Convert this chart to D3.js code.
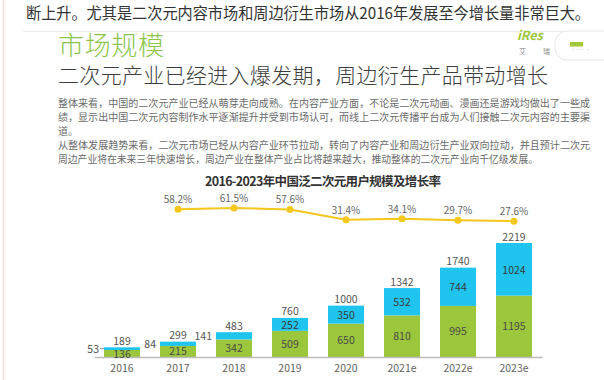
<!DOCTYPE html>
<html>
<head>
<meta charset="utf-8">
<script src="https://cdn.jsdelivr.net/npm/d3@7"></script>
<style>
  html, body { margin: 0; padding: 0; background: #fff; }
  svg { display: block; }
  text { font-family: "Noto Sans CJK SC", "Noto Sans", sans-serif; }
</style>
</head>
<body>
<svg id="chart" width="604" height="380"></svg>
<script>
// ---- data ----
const years = ["2016", "2017", "2018", "2019", "2020", "2021e", "2022e", "2023e"];
const coreValues = [136, 215, 342, 509, 650, 810, 995, 1195];      // green segment
const derivValues = [53, 84, 141, 252, 350, 532, 744, 1024];       // blue segment
const totalValues = [189, 299, 483, 760, 1000, 1342, 1740, 2219];
const growthRates = [null, 58.2, 61.5, 57.6, 31.4, 34.1, 29.7, 27.6];
const growthLabels = ["", "58.2%", "61.5%", "57.6%", "31.4%", "34.1%", "29.7%", "27.6%"];

const topLine = "断上升。尤其是二次元内容市场和周边衍生市场从2016年发展至今增长量非常巨大。";
const sectionTitle = "市场规模";
const headline = "二次元产业已经进入爆发期，周边衍生产品带动增长";
const paragraphLines = [
  "整体来看，中国的二次元产业已经从萌芽走向成熟。在内容产业方面，不论是二次元动画、漫画还是游戏均做出了一些成",
  "绩，显示出中国二次元内容制作水平逐渐提升并受到市场认可，而线上二次元传播平台成为人们接触二次元内容的主要渠",
  "道。",
  "从整体发展趋势来看，二次元市场已经从内容产业环节拉动，转向了内容产业和周边衍生产业双向拉动，并且预计二次元",
  "周边产业将在未来三年快速增长，周边产业在整体产业占比将越来越大，推动整体的二次元产业向千亿级发展。"
];
const chartTitle = "2016-2023年中国泛二次元用户规模及增长率";

// ---- drawing ----
const svg = d3.select("#chart");
const GREEN = "#9cc63b", BLUE = "#1fc5ef", YELLOW = "#f3c71c";

// page decorations
svg.append("line").attr("x1", 3.5).attr("x2", 3.5).attr("y1", 0).attr("y2", 380)
  .attr("stroke", "#f3ddd2").attr("stroke-width", 1.5);
svg.append("text").attr("x", 26).attr("y", 19).attr("font-size", 15.5).attr("fill", "#333")
  .attr("textLength", 564).attr("lengthAdjust", "spacingAndGlyphs").text(topLine);
svg.append("line").attr("x1", 23).attr("x2", 600).attr("y1", 31.5).attr("y2", 31.5)
  .attr("stroke", "#ececec").attr("stroke-width", 1);

// logo
const card = svg.append("g");
card.append("rect").attr("x", 555).attr("y", 31).attr("width", 60).attr("height", 29).attr("rx", 12)
  .attr("fill", "#fff").attr("stroke", "#e6e6e6");
card.append("rect").attr("x", 570).attr("y", 42).attr("width", 13).attr("height", 4.5).attr("fill", "#a5c83a");
card.append("text").attr("x", 571).attr("y", 52).attr("font-size", 4).attr("fill", "#999").text("• • • •");
svg.append("text").attr("x", 517).attr("y", 40).attr("font-size", 12.5).attr("font-weight", 700)
  .attr("font-style", "italic").attr("fill", "#9cc63b").attr("font-family", "Liberation Sans, sans-serif").text("iRes");
svg.append("text").attr("x", 519).attr("y", 54).attr("font-size", 7).attr("fill", "#888").text("艾");
svg.append("text").attr("x", 543).attr("y", 54).attr("font-size", 7).attr("fill", "#888").text("瑞");

// headings
svg.append("text").attr("x", 58).attr("y", 55).attr("font-size", 26).attr("font-weight", 300)
  .attr("fill", "#8dc54c").attr("textLength", 106).text(sectionTitle);
svg.append("text").attr("x", 58).attr("y", 83).attr("font-size", 21).attr("font-weight", 300)
  .attr("fill", "#3d3d3d").attr("textLength", 490).text(headline);

const paraWidths = [532, 532, null, 532, 480];
paragraphLines.forEach((line, i) => {
  const t = svg.append("text").attr("x", 58).attr("y", 107 + i * 14)
    .attr("font-size", 10).attr("fill", "#6b6b6b").text(line);
  if (paraWidths[i]) t.attr("textLength", paraWidths[i]).attr("lengthAdjust", "spacingAndGlyphs");
});

svg.append("text").attr("x", 205).attr("y", 186).attr("font-size", 12.5).attr("font-weight", 700)
  .attr("fill", "#333").attr("textLength", 236).text(chartTitle);

// scales
const x = d3.scaleBand().domain(years).range([94, 542]).paddingInner(0.357).paddingOuter(0.1785);
const y = d3.scaleLinear().domain([0, 2219]).range([357, 243]);
const yRate = d3.scaleLinear().domain([0, 100]).range([232, 192.8]);

const data = years.map((yr, i) => ({
  yr, core: coreValues[i], deriv: derivValues[i], total: totalValues[i],
  rate: growthRates[i], rateLabel: growthLabels[i]
}));

// bars
const bars = svg.append("g");
bars.selectAll("rect.core").data(data).join("rect").attr("class", "core")
  .attr("x", d => x(d.yr)).attr("width", x.bandwidth())
  .attr("y", d => y(d.core)).attr("height", d => y(0) - y(d.core)).attr("fill", GREEN);
bars.selectAll("rect.deriv").data(data).join("rect").attr("class", "deriv")
  .attr("x", d => x(d.yr)).attr("width", x.bandwidth())
  .attr("y", d => y(d.core + d.deriv)).attr("height", d => y(d.core) - y(d.core + d.deriv)).attr("fill", BLUE);

// axis
const axis = svg.append("g").attr("transform", `translate(0,${y(0)})`)
  .call(d3.axisBottom(x).tickSizeInner(0).tickSizeOuter(0).tickPadding(8));
axis.select(".domain").attr("stroke", "#bdbdbd").attr("stroke-width", 1.5);
axis.selectAll("text").attr("font-size", 10.5).attr("fill", "#666")
  .attr("font-family", "'Open Sans', 'Noto Sans', sans-serif");

const labelFont = "'Open Sans', 'Noto Sans', sans-serif";
const cx = d => x(d.yr) + x.bandwidth() / 2;

// labels: totals
svg.append("g").selectAll("text").data(data).join("text")
  .attr("x", cx).attr("y", d => y(d.total) - 2.5).attr("text-anchor", "middle")
  .attr("font-size", 10.5).attr("fill", "#555").attr("font-family", labelFont).text(d => d.total);
// labels: green
svg.append("g").selectAll("text").data(data).join("text")
  .attr("x", cx).attr("y", d => (y(0) + y(d.core)) / 2 + 4).attr("text-anchor", "middle")
  .attr("font-size", 10.5).attr("fill", "#4a4a4a").attr("font-family", labelFont).text(d => d.core);
// labels: blue
const small = d => (y(d.core) - y(d.core + d.deriv)) < 12;
svg.append("g").selectAll("text").data(data).join("text")
  .attr("x", d => small(d) ? x(d.yr) - (d.yr === "2016" ? 5 : 4) : cx(d))
  .attr("y", d => (y(d.core) + y(d.core + d.deriv)) / 2 + 4.5)
  .attr("text-anchor", d => small(d) ? "end" : "middle")
  .attr("font-size", 10.5).attr("fill", d => small(d) ? "#555" : "#3a3a3a")
  .attr("font-family", labelFont).text(d => d.deriv);
// leader for the tiniest segment
svg.append("g").selectAll("line").data(data.filter(d => (y(d.core) - y(d.core + d.deriv)) < 4)).join("line")
  .attr("x1", d => x(d.yr) - 4).attr("x2", d => x(d.yr))
  .attr("y1", d => (y(d.core) + y(d.core + d.deriv)) / 2).attr("y2", d => (y(d.core) + y(d.core + d.deriv)) / 2)
  .attr("stroke", "#999").attr("stroke-width", 1);

// growth line
const rateData = data.filter(d => d.rate != null);
svg.append("path").datum(rateData)
  .attr("d", d3.line().x(cx).y(d => yRate(d.rate)))
  .attr("fill", "none").attr("stroke", YELLOW).attr("stroke-width", 2);
svg.append("g").selectAll("circle").data(rateData).join("circle")
  .attr("cx", cx).attr("cy", d => yRate(d.rate)).attr("r", 3.5).attr("fill", YELLOW);
svg.append("g").selectAll("text").data(rateData).join("text")
  .attr("x", cx).attr("y", d => yRate(d.rate) - 6).attr("text-anchor", "middle")
  .attr("font-size", 10).attr("fill", "#666").attr("font-family", labelFont).text(d => d.rateLabel);
</script>
</body>
</html>
